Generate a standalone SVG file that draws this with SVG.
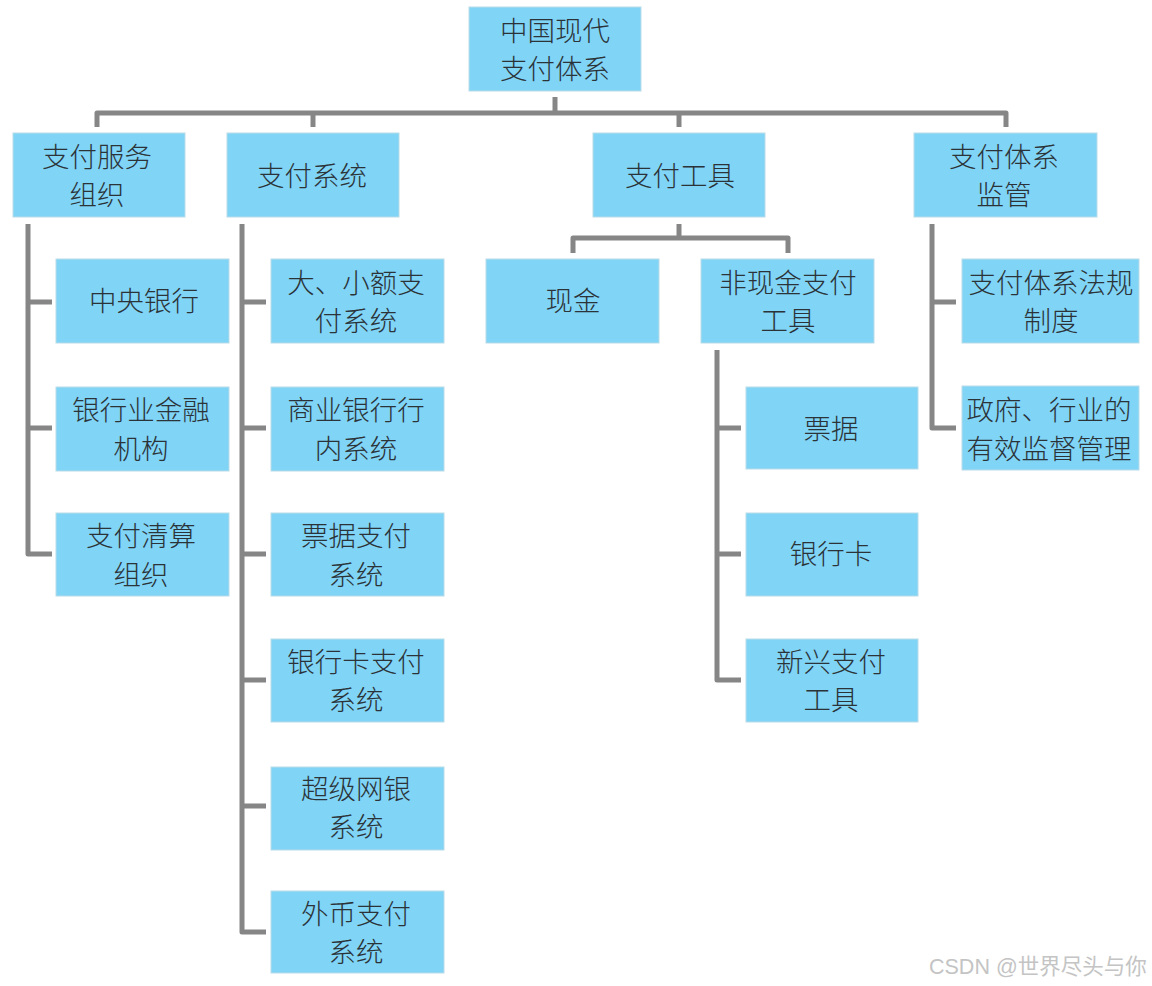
<svg xmlns="http://www.w3.org/2000/svg" width="1152" height="986" viewBox="0 0 1152 986">
<style>
.box{fill:#80d4f6;stroke:#b9dbe8;stroke-width:1}
.t{font-family:"Noto Sans CJK SC","Noto Sans",sans-serif;font-size:27.5px;font-weight:300;fill:#2b3338;text-anchor:middle;dominant-baseline:central}
.ln{fill:none;stroke:#868686;stroke-width:5;stroke-linejoin:round;stroke-linecap:butt}
.wm{font-family:"Liberation Sans","Noto Sans CJK SC",sans-serif;font-size:21.5px;fill:#c4c4c4}
</style>
<rect width="1152" height="986" fill="#ffffff"/>
<g id="connectors">
<path class="ln" d="M555,97 V113"/>
<path class="ln" d="M97,127 V113 H1006 V127"/>
<path class="ln" d="M313,113 V127"/>
<path class="ln" d="M679,113 V127"/>
<path class="ln" d="M28,224 V554 H52"/>
<path class="ln" d="M28,302 H52 M28,428 H52"/>
<path class="ln" d="M242,224 V932 H266"/>
<path class="ln" d="M242,302 H266 M242,428 H266 M242,554 H266 M242,680 H266 M242,806 H266"/>
<path class="ln" d="M679,224 V238"/>
<path class="ln" d="M573,253 V238 H788 V253"/>
<path class="ln" d="M717,350 V680 H741"/>
<path class="ln" d="M717,428 H741 M717,554 H741"/>
<path class="ln" d="M932,224 V428 H956"/>
<path class="ln" d="M932,302 H956"/>
</g>
<g id="root"><rect class="box" x="469" y="7" width="172" height="84"/><text class="t" x="555" y="29">中国现代</text><text class="t" x="555" y="67">支付体系</text></g>
<g id="n-fwzz"><rect class="box" x="13" y="133" width="172" height="84"/><text class="t" x="97" y="155">支付服务</text><text class="t" x="97" y="193">组织</text></g>
<g id="n-xt"><rect class="box" x="227" y="133" width="172" height="84"/><text class="t" x="312" y="174">支付系统</text></g>
<g id="n-gj"><rect class="box" x="593" y="133" width="172" height="84"/><text class="t" x="680" y="174">支付工具</text></g>
<g id="n-jg"><rect class="box" x="914" y="133" width="183" height="84"/><text class="t" x="1004" y="155">支付体系</text><text class="t" x="1004" y="193">监管</text></g>
<g id="n-zyyh"><rect class="box" x="56" y="259" width="173" height="84"/><text class="t" x="144" y="299">中央银行</text></g>
<g id="n-yhy"><rect class="box" x="56" y="387" width="173" height="84"/><text class="t" x="141" y="408">银行业金融</text><text class="t" x="141" y="447">机构</text></g>
<g id="n-qs"><rect class="box" x="56" y="513" width="173" height="83"/><text class="t" x="141" y="534">支付清算</text><text class="t" x="141" y="573">组织</text></g>
<g id="n-dxe"><rect class="box" x="271" y="259" width="173" height="84"/><text class="t" x="356" y="281">大、小额支</text><text class="t" x="356" y="319">付系统</text></g>
<g id="n-sy"><rect class="box" x="271" y="387" width="173" height="84"/><text class="t" x="356" y="408">商业银行行</text><text class="t" x="356" y="447">内系统</text></g>
<g id="n-pj"><rect class="box" x="271" y="513" width="173" height="83"/><text class="t" x="356" y="534">票据支付</text><text class="t" x="356" y="573">系统</text></g>
<g id="n-yhk"><rect class="box" x="271" y="639" width="173" height="83"/><text class="t" x="356" y="660">银行卡支付</text><text class="t" x="356" y="698">系统</text></g>
<g id="n-cjwy"><rect class="box" x="271" y="767" width="173" height="83"/><text class="t" x="356" y="787">超级网银</text><text class="t" x="356" y="825">系统</text></g>
<g id="n-wb"><rect class="box" x="271" y="891" width="173" height="82"/><text class="t" x="356" y="912">外币支付</text><text class="t" x="356" y="950">系统</text></g>
<g id="n-xj"><rect class="box" x="486" y="259" width="173" height="84"/><text class="t" x="573" y="299">现金</text></g>
<g id="n-fxj"><rect class="box" x="701" y="259" width="173" height="84"/><text class="t" x="788" y="281">非现金支付</text><text class="t" x="788" y="319">工具</text></g>
<g id="n-pj2"><rect class="box" x="746" y="387" width="172" height="82"/><text class="t" x="831" y="427">票据</text></g>
<g id="n-yhk2"><rect class="box" x="746" y="513" width="172" height="83"/><text class="t" x="831" y="552">银行卡</text></g>
<g id="n-xx"><rect class="box" x="746" y="639" width="172" height="83"/><text class="t" x="831" y="660">新兴支付</text><text class="t" x="831" y="698">工具</text></g>
<g id="n-fg"><rect class="box" x="962" y="259" width="177" height="84"/><text class="t" x="1051" y="281">支付体系法规</text><text class="t" x="1051" y="319">制度</text></g>
<g id="n-zf"><rect class="box" x="962" y="386" width="177" height="84"/><text class="t" x="1049" y="408">政府、行业的</text><text class="t" x="1049" y="447">有效监督管理</text></g>
<text class="wm" x="929" y="974">CSDN @世界尽头与你</text>
</svg>
